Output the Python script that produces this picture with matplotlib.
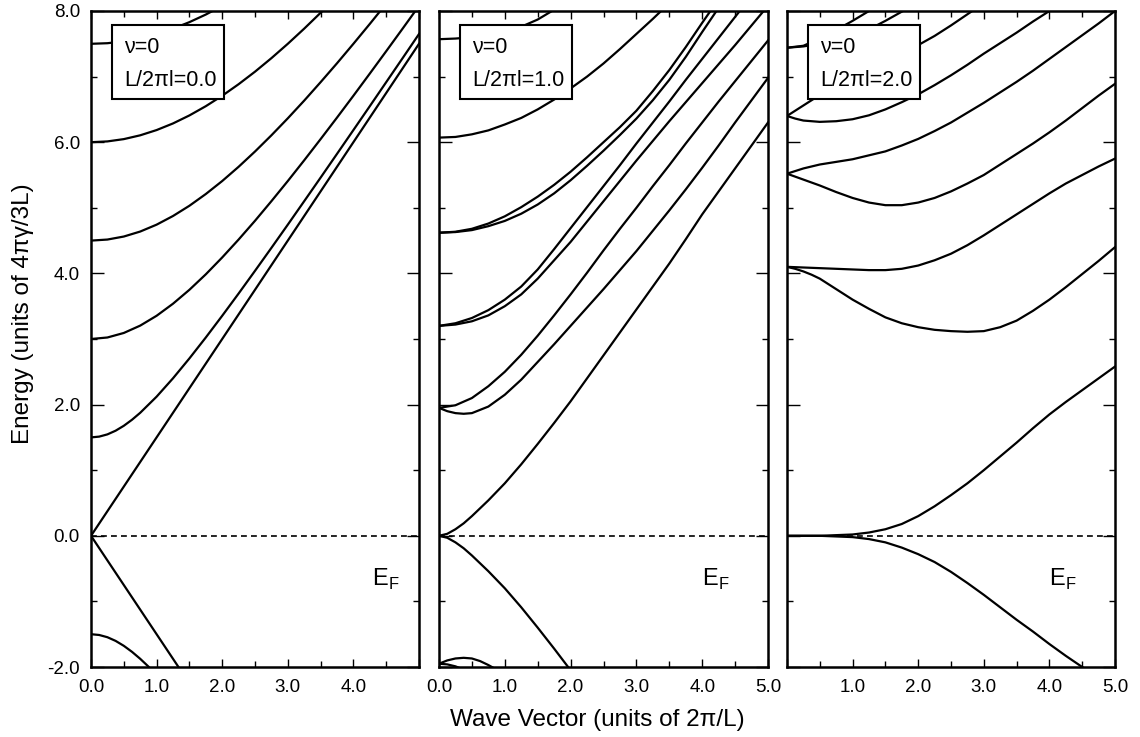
import matplotlib
matplotlib.use("Agg")
import matplotlib.pyplot as plt
from matplotlib.patches import Rectangle
from matplotlib.ticker import MultipleLocator

plt.rcParams['font.family'] = ['Liberation Sans', 'DejaVu Sans']
plt.rcParams['mathtext.fontset'] = 'custom'
plt.rcParams['mathtext.rm'] = 'Liberation Sans'

Q = [0, 0.25, 0.5, 0.75, 1, 1.25, 1.5, 1.75, 2, 2.25, 2.5, 2.75,
     3, 3.25, 3.5, 3.75, 4, 4.25, 4.5, 4.75, 5]

# ---- panel 1 : L/2pi l = 0.0 ----
k1_n1 = [0, 0.125, 0.25, 0.375, 0.5, 0.625, 0.75] + Q[4:]
e1_n1 = [1.5, 1.512, 1.546, 1.602, 1.677, 1.769, 1.875, 2.121, 2.401, 2.704, 3.023, 3.354,
         3.693, 4.039, 4.389, 4.743, 5.101, 5.46, 5.822, 6.185, 6.549, 6.915, 7.281, 7.649]
k1_n2 = Q
e1_n2 = [3.0, 3.023, 3.092, 3.204, 3.354, 3.538, 3.75, 3.986, 4.243, 4.516, 4.802, 5.101,
         5.408, 5.724, 6.047, 6.375, 6.708, 7.046, 7.387, 7.731, 8.078]
k1_n3 = Q[:19]
e1_n3 = [4.5, 4.516, 4.562, 4.638, 4.743, 4.875, 5.031, 5.21, 5.408, 5.625, 5.858, 6.105,
         6.364, 6.634, 6.915, 7.203, 7.5, 7.803, 8.112]
k1_n4 = Q[:16]
e1_n4 = [6.0, 6.012, 6.047, 6.105, 6.185, 6.286, 6.408, 6.549, 6.708, 6.884, 7.075, 7.281,
         7.5, 7.731, 7.973, 8.224]
k1_n5 = Q[:9]
e1_n5 = [7.5, 7.509, 7.537, 7.584, 7.649, 7.731, 7.83, 7.946, 8.078]
k1_lin = [0, 5]
e1_lin = [0, 7.5]
k1_lin_neg = [0, 1.5]
e1_lin_neg = [0, -2.25]
k1_m1 = [0, 0.125, 0.25, 0.375, 0.5, 0.625, 0.75, 0.875, 1]
e1_m1 = [-1.5, -1.512, -1.546, -1.602, -1.677, -1.769, -1.875, -1.993, -2.121]

# ---- panel 2 : L/2pi l = 1.0 ----
k2_a = Q[:8]
e2_a = [7.57, 7.58, 7.6, 7.63, 7.68, 7.76, 7.87, 8.02]
k2_b = Q[:15]
e2_b = [6.07, 6.08, 6.12, 6.18, 6.27, 6.37, 6.5, 6.65, 6.82, 7.0, 7.2, 7.42, 7.65, 7.88, 8.12]
k2_c = Q[:18]
e2_c = [4.62, 4.635, 4.68, 4.76, 4.87, 5.01, 5.17, 5.35, 5.55, 5.77, 6.0, 6.23, 6.48, 6.78,
        7.1, 7.45, 7.82, 8.18]
k2_d = Q[:18]
e2_d = [4.62, 4.63, 4.66, 4.72, 4.8, 4.91, 5.05, 5.22, 5.42, 5.64, 5.87, 6.11, 6.36, 6.64,
        6.95, 7.3, 7.68, 8.05]
k2_e = Q[:20]
e2_e = [3.2, 3.24, 3.32, 3.44, 3.6, 3.8, 4.06, 4.37, 4.69, 5.01, 5.33, 5.65, 5.98, 6.3,
        6.62, 6.95, 7.27, 7.59, 7.91, 8.23]
k2_f = Q
e2_f = [3.2, 3.22, 3.27, 3.36, 3.5, 3.68, 3.92, 4.2, 4.48, 4.79, 5.1, 5.41, 5.72, 6.02,
        6.32, 6.61, 6.9, 7.19, 7.48, 7.78, 8.08]
k2_g = Q
e2_g = [1.95, 1.99, 2.1, 2.28, 2.5, 2.76, 3.05, 3.36, 3.68, 4.01, 4.35, 4.68, 5.0, 5.33,
        5.65, 5.98, 6.3, 6.62, 6.93, 7.24, 7.55]
k2_h = [0, 0.125, 0.25, 0.375] + Q[2:]
e2_h = [1.95, 1.9, 1.87, 1.86, 1.87, 1.97, 2.15, 2.38, 2.65, 2.92, 3.2, 3.48, 3.76, 4.05,
        4.34, 4.65, 4.96, 5.28, 5.61, 5.95, 6.3, 6.64, 6.98]
k2_0 = [0, 0.125, 0.25, 0.375] + Q[2:]
e2_0 = [0, 0.03, 0.1, 0.19, 0.3, 0.54, 0.8, 1.09, 1.4, 1.72, 2.05, 2.4, 2.75, 3.1, 3.45,
        3.8, 4.15, 4.52, 4.9, 5.25, 5.6, 5.95, 6.3]
k2_0neg = [0, 0.125, 0.25, 0.375, 0.5, 0.75, 1, 1.25, 1.5, 1.75, 2]
e2_0neg = [0, -0.03, -0.1, -0.19, -0.3, -0.54, -0.8, -1.09, -1.4, -1.72, -2.05]
k2_hneg = [0, 0.125, 0.25, 0.375, 0.5, 0.625, 0.75, 0.875]
e2_hneg = [-1.95, -1.9, -1.87, -1.86, -1.87, -1.91, -1.97, -2.04]
k2_gneg = [0, 0.125, 0.25, 0.375]
e2_gneg = [-1.95, -1.96, -1.99, -2.04]

# ---- panel 3 : L/2pi l = 2.0 ----
k3_a = Q[:7]
e3_a = [7.44, 7.47, 7.58, 7.71, 7.85, 8.0, 8.15]
k3_b = Q[:9]
e3_b = [7.44, 7.46, 7.5, 7.55, 7.62, 7.72, 7.85, 7.99, 8.13]
k3_c = [0, 0.125, 0.25, 0.375] + Q[2:13]
e3_c = [6.4, 6.48, 6.56, 6.64, 6.72, 6.87, 7.0, 7.13, 7.25, 7.36, 7.48, 7.62, 7.78, 7.95, 8.12]
k3_d = [0, 0.125] + Q[1:18]
e3_d = [6.4, 6.36, 6.33, 6.31, 6.32, 6.35, 6.41, 6.5, 6.61, 6.73, 6.87, 7.02, 7.18, 7.35,
        7.51, 7.67, 7.84, 8.0, 8.17]
k3_e = Q
e3_e = [5.52, 5.6, 5.66, 5.7, 5.74, 5.8, 5.86, 5.95, 6.05, 6.17, 6.3, 6.45, 6.6, 6.76,
        6.92, 7.09, 7.27, 7.45, 7.63, 7.81, 8.0]
k3_f = Q
e3_f = [5.52, 5.43, 5.34, 5.24, 5.15, 5.08, 5.04, 5.04, 5.08, 5.15, 5.25, 5.37, 5.5, 5.66,
        5.82, 5.98, 6.15, 6.33, 6.52, 6.71, 6.89]
k3_g = Q
e3_g = [4.1, 4.09, 4.08, 4.07, 4.06, 4.05, 4.05, 4.07, 4.12, 4.2, 4.3, 4.43, 4.58, 4.74,
        4.9, 5.06, 5.22, 5.37, 5.5, 5.63, 5.75]
k3_h = [0, 0.125, 0.25, 0.375] + Q[2:]
e3_h = [4.1, 4.07, 4.03, 3.98, 3.92, 3.76, 3.6, 3.46, 3.33, 3.24, 3.18, 3.14, 3.12, 3.11,
        3.12, 3.18, 3.28, 3.43, 3.6, 3.79, 3.99, 4.19, 4.4]
k3_0 = Q
e3_0 = [0, 0, 0, 0.01, 0.02, 0.05, 0.1, 0.18, 0.3, 0.45, 0.62, 0.8, 1.0, 1.21, 1.42, 1.64,
        1.85, 2.04, 2.22, 2.4, 2.58]
k3_0neg = Q
e3_0neg = [0, 0, 0, -0.01, -0.02, -0.05, -0.1, -0.18, -0.28, -0.4, -0.55, -0.72, -0.9,
           -1.09, -1.28, -1.46, -1.65, -1.83, -2.0, -2.17, -2.34]

panels = [
    dict(field="0.0", ef_x=4.28,
         bands=[(k1_n1, e1_n1), (k1_n2, e1_n2), (k1_n3, e1_n3), (k1_n4, e1_n4),
                (k1_n5, e1_n5), (k1_lin, e1_lin), (k1_lin_neg, e1_lin_neg), (k1_m1, e1_m1)],
         xlabels=["0.0", "1.0", "2.0", "3.0", "4.0", ""]),
    dict(field="1.0", ef_x=4.0,
         bands=[(k2_a, e2_a), (k2_b, e2_b), (k2_c, e2_c), (k2_d, e2_d), (k2_e, e2_e),
                (k2_f, e2_f), (k2_g, e2_g), (k2_h, e2_h), (k2_0, e2_0), (k2_0neg, e2_0neg),
                (k2_hneg, e2_hneg), (k2_gneg, e2_gneg)],
         xlabels=["0.0", "1.0", "2.0", "3.0", "4.0", "5.0"]),
    dict(field="2.0", ef_x=4.0,
         bands=[(k3_a, e3_a), (k3_b, e3_b), (k3_c, e3_c), (k3_d, e3_d), (k3_e, e3_e),
                (k3_f, e3_f), (k3_g, e3_g), (k3_h, e3_h), (k3_0, e3_0), (k3_0neg, e3_0neg)],
         xlabels=["", "1.0", "2.0", "3.0", "4.0", "5.0"]),
]

yticks = [-2, 0, 2, 4, 6, 8]
ylabels = ["-2.0", "0.0", "2.0", "4.0", "6.0", "8.0"]

fig = plt.figure(figsize=(11.4, 7.37), dpi=100)
lefts = [91, 439, 787]
widths = [328, 329, 328]

for i, p in enumerate(panels):
    ax = fig.add_axes([lefts[i] / 1140, 70 / 737, widths[i] / 1140, 656 / 737])
    for k, e in p["bands"]:
        ax.plot(k, e, color="black", lw=1.6, solid_joinstyle="round")
    ax.plot([0, 5], [0, 0], color="black", lw=1.2, ls=(0, (3.5, 2.5)))
    ax.set_xlim(0, 5)
    ax.set_ylim(-2, 8)

    ax.set_xticks([0, 1, 2, 3, 4, 5])
    ax.set_xticklabels(p["xlabels"])
    ax.xaxis.set_minor_locator(MultipleLocator(0.5))
    ax.set_yticks(yticks)
    ax.yaxis.set_minor_locator(MultipleLocator(1))
    if i == 0:
        ax.set_yticklabels(ylabels)
    else:
        ax.set_yticklabels([])
    ax.tick_params(axis="both", which="both", direction="in", top=True, right=True,
                   width=1.0, labelsize=13.5)
    ax.tick_params(axis="x", which="major", length=6, pad=9)
    ax.tick_params(axis="x", which="minor", length=4)
    ax.tick_params(axis="y", which="major", length=9, pad=8)
    ax.tick_params(axis="y", which="minor", length=4)
    for s in ax.spines.values():
        s.set_linewidth(1.8)

    # parameter box
    ax.add_patch(Rectangle((0.063, 0.866), 0.342, 0.113, transform=ax.transAxes,
                           facecolor="white", edgecolor="black", lw=1.5, zorder=5))
    ax.text(0.10, 0.936, "\u03bd=0", transform=ax.transAxes, fontsize=15.5,
            va="baseline", ha="left", zorder=6)
    ax.text(0.10, 0.886, "L/2\u03c0l=" + p["field"], transform=ax.transAxes, fontsize=15.5,
            va="baseline", ha="left", zorder=6)

    ax.text(p["ef_x"], -0.76, r"$\mathrm{E}_\mathrm{F}$", fontsize=17, ha="left", va="baseline")

fig.text(0.524, 0.023, "Wave Vector (units of 2\u03c0/L)", fontsize=17.5, ha="center", va="center")
fig.text(0.02, 0.575, "Energy (units of 4\u03c0\u03b3/3L)", fontsize=17.5, rotation=90,
         ha="center", va="center")

fig.savefig("out.png", dpi=100)
